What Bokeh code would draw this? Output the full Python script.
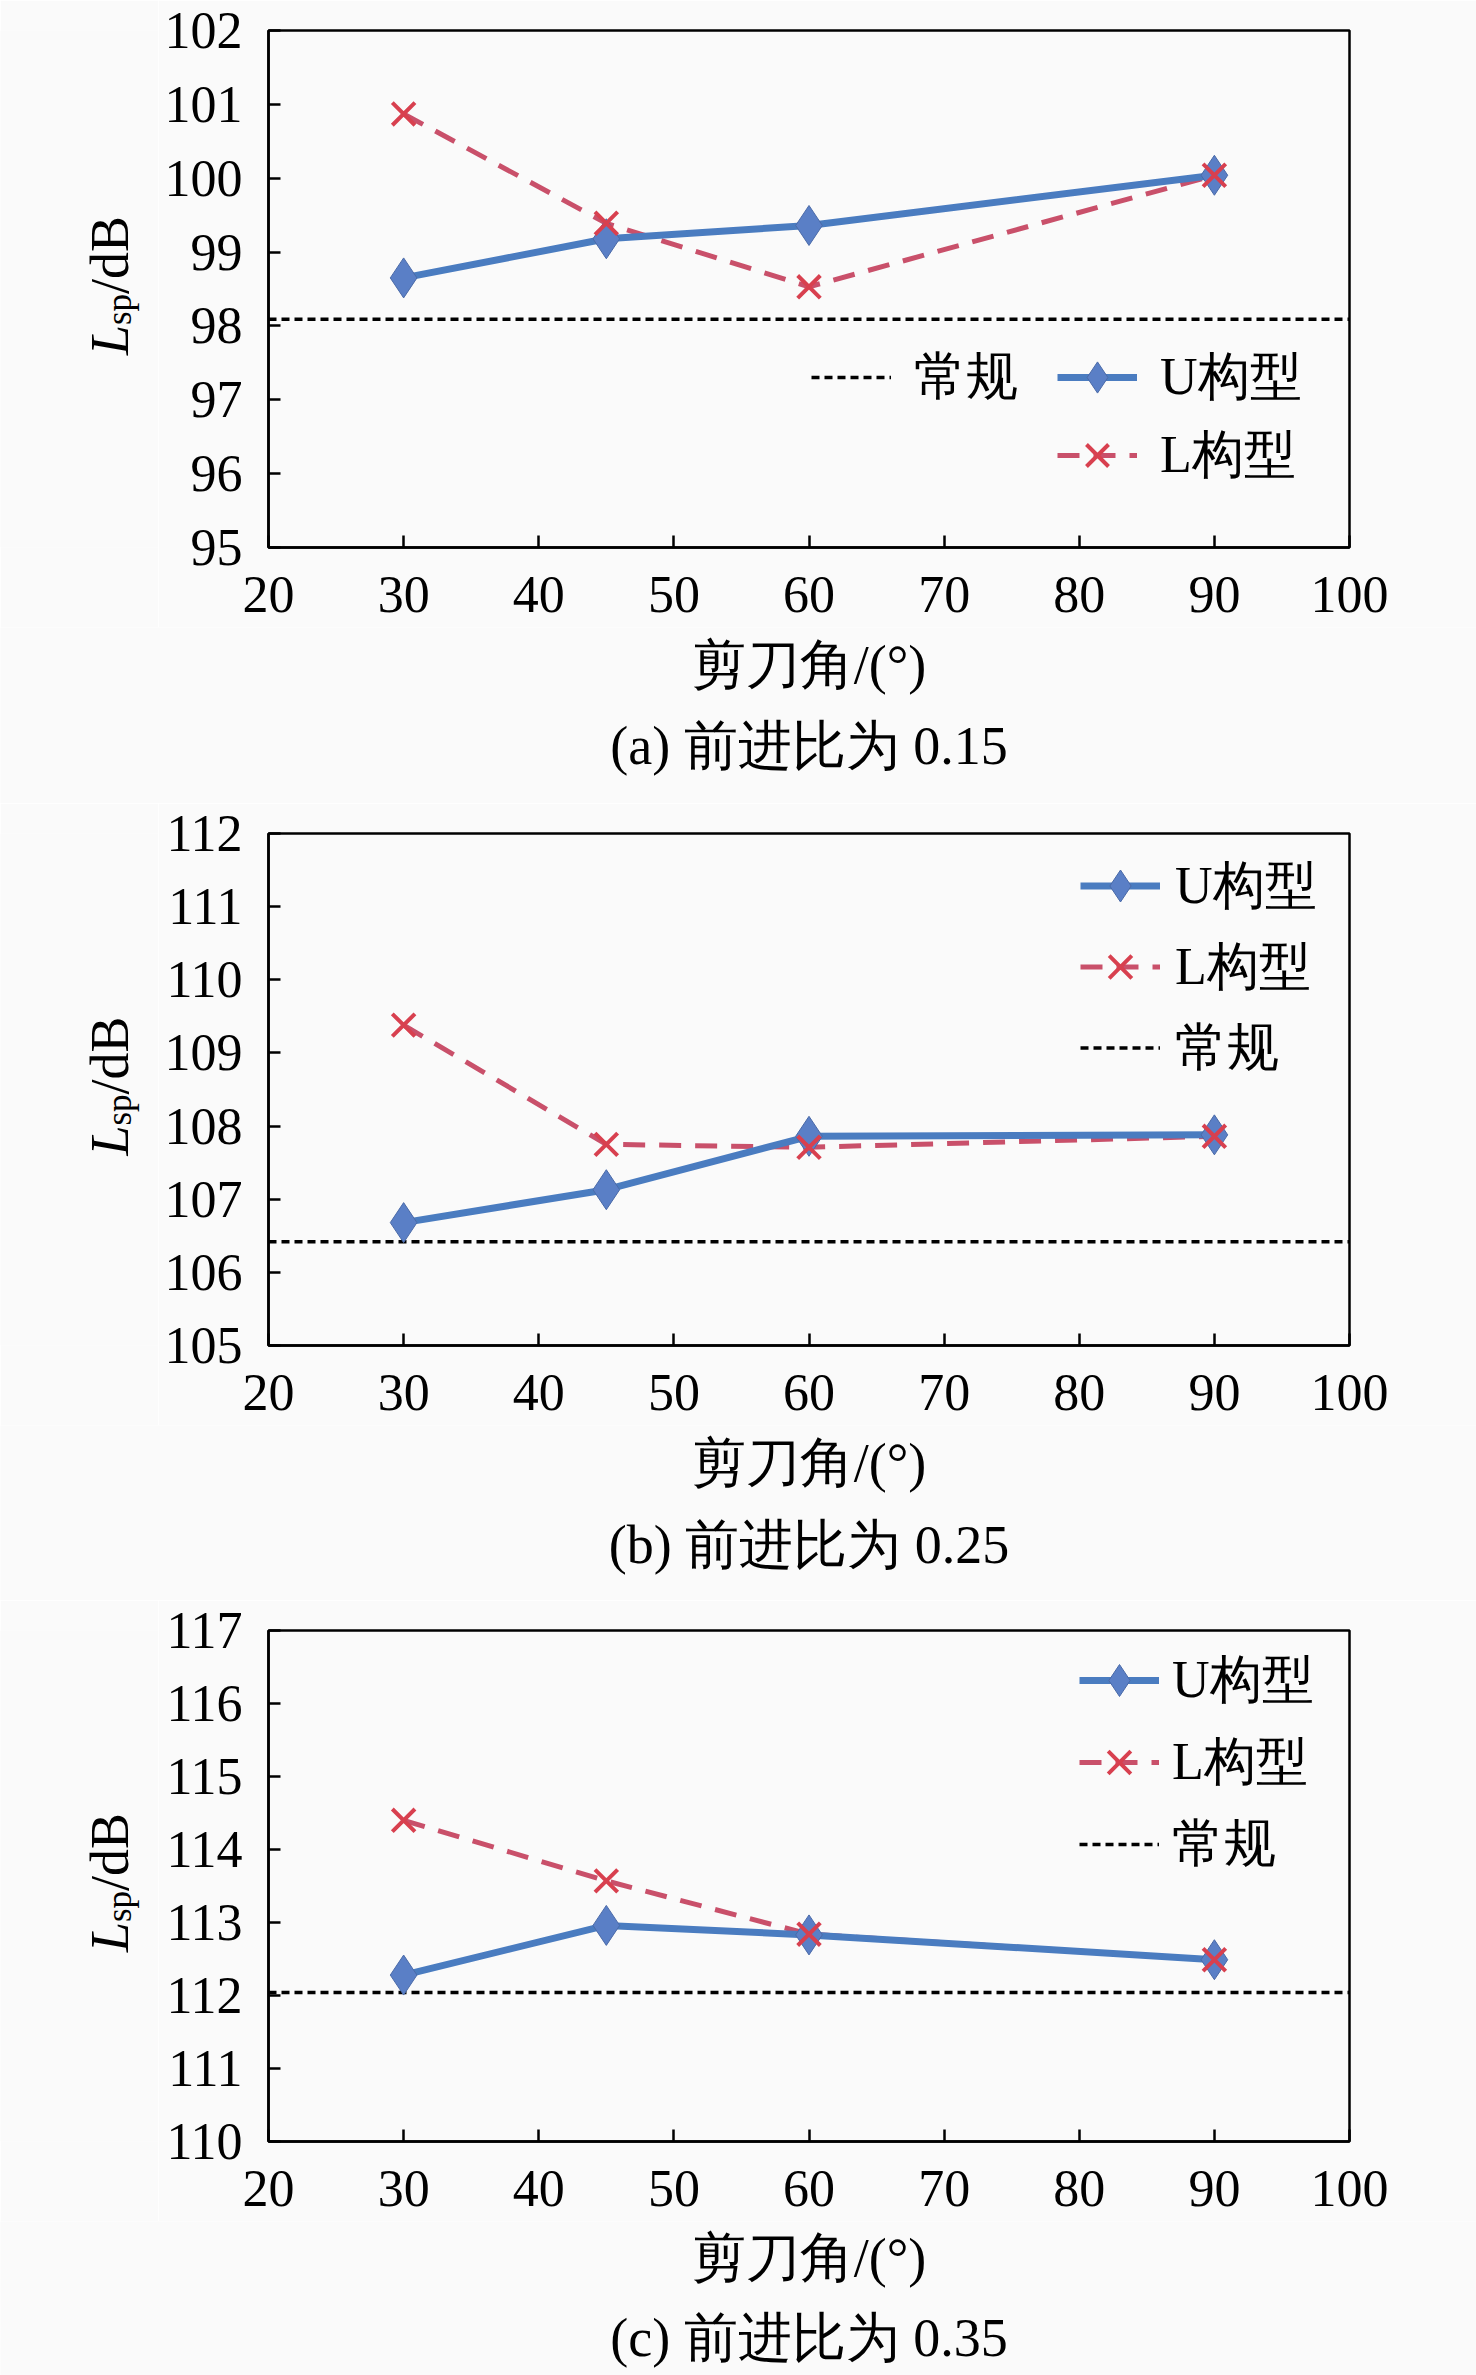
import math
from bokeh.plotting import figure
from bokeh.models import Range1d, FixedTicker, Label, Legend, LegendItem
from bokeh.layouts import column, row
from bokeh.embed import file_html
from bokeh.resources import INLINE

# ---------------- data ----------------
angles = [30, 45, 60, 90]
x_ticks = [20, 30, 40, 50, 60, 70, 80, 90, 100]
x_lo, x_hi = 20, 100

u_a = [98.65, 99.18, 99.36, 100.04]
l_a = [100.87, 99.39, 98.53, 100.04]
conv_a = 98.09
y_a = (95, 102)
yticks_a = [95, 96, 97, 98, 99, 100, 101, 102]
cap_a = "(a) 前进比为 0.15"

u_b = [106.68, 107.13, 107.86, 107.88]
l_b = [109.38, 107.75, 107.71, 107.86]
conv_b = 106.42
y_b = (105, 112)
yticks_b = [105, 106, 107, 108, 109, 110, 111, 112]
cap_b = "(b) 前进比为 0.25"

u_c = [112.28, 112.96, 112.83, 112.49]
l_c = [114.40, 113.57, 112.84, 112.49]
conv_c = 112.04
y_c = (110, 117)
yticks_c = [110, 111, 112, 113, 114, 115, 116, 117]
cap_c = "(c) 前进比为 0.35"

x_title = "剪刀角/(°)"
lab_u = "U构型"
lab_l = "L构型"
lab_conv = "常规"

SERIF = "Liberation Serif"
BG = "#fafafa"
U_COL = "#4a7cc0"
U_MK = "#5a7fc6"
L_COL = "#c9506a"
L_MK = "#d8404f"

FW = 1476          # page width
YLAB_W = 158       # width of the y-label strip
MAIN_W = FW - YLAB_W
LEFT = 110         # main figure left border
FRAME_W = 1081
BOT = 80           # main figure bottom border


def blank_fig(w, h):
    f = figure(width=w, height=h, output_backend="svg", toolbar_location=None,
               x_range=Range1d(0, 1), y_range=Range1d(0, 1),
               x_axis_type=None, y_axis_type=None,
               min_border=0, min_border_left=0, min_border_right=0,
               min_border_top=0, min_border_bottom=0)
    f.outline_line_color = None
    f.background_fill_color = BG
    f.border_fill_color = BG
    f.grid.visible = False
    return f


def build(u, l, conv, yr, yticks, cap, top, fh, cap_h, t_top, c_top, legends):
    height = top + fh + BOT
    p = figure(width=MAIN_W, height=height, output_backend="svg", toolbar_location=None,
               x_range=Range1d(x_lo, x_hi), y_range=Range1d(*yr),
               min_border_left=LEFT, min_border_right=MAIN_W - LEFT - FRAME_W,
               min_border_top=top, min_border_bottom=BOT)
    p.background_fill_color = BG
    p.border_fill_color = BG
    p.outline_line_color = "black"
    p.outline_line_width = 2.5
    p.xgrid.visible = False
    p.ygrid.visible = False

    for ax in (p.xaxis[0], p.yaxis[0]):
        ax.axis_line_color = "black"
        ax.axis_line_width = 2.5
        ax.major_tick_in = 12
        ax.major_tick_out = 0
        ax.major_tick_line_width = 2.5
        ax.minor_tick_line_color = None
        ax.major_label_text_font = SERIF
        ax.major_label_text_font_size = "52px"
        ax.major_label_text_color = "black"
    p.xaxis.ticker = FixedTicker(ticks=x_ticks)
    p.yaxis.ticker = FixedTicker(ticks=yticks)
    p.xaxis.major_label_standoff = 29
    p.yaxis.major_label_standoff = 26

    conv_r = p.line([x_lo, x_hi], [conv, conv], line_color="black", line_width=3.5, line_dash="8 5")
    l_line = p.line(angles, l, line_color=L_COL, line_width=5, line_dash="22 14")
    u_line = p.line(angles, u, line_color=U_COL, line_width=7)
    u_mk = p.scatter(angles, u, marker="diamond", size=40, fill_color=U_MK, line_color="#4a6aa8", line_width=1)
    l_mk = p.scatter(angles, l, marker="x", size=32, line_color=L_MK, line_width=4)

    rmap = {lab_u: [u_line, u_mk], lab_l: [l_line, l_mk], lab_conv: [conv_r]}
    for names, loc, ih, standoff in legends:
        items = [LegendItem(label=n, renderers=rmap[n]) for n in names]
        lg = Legend(items=items, location=loc, orientation="vertical",
                    glyph_width=80, glyph_height=ih, label_height=ih,
                    label_standoff=standoff, padding=0, margin=0, spacing=0,
                    border_line_alpha=0, background_fill_alpha=0,
                    label_text_font=SERIF, label_text_font_size="52px",
                    label_text_color="black")
        p.add_layout(lg)

    # y-label strip (its frame is the whole canvas)
    yl = blank_fig(YLAB_W, height)
    cy = BOT + fh / 2
    base_x = 109
    y0 = cy - 146
    yl.add_layout(Label(x=base_x, y=y0, x_units="screen", y_units="screen", text="L",
                        angle=math.pi / 2, text_font=SERIF, text_font_style="italic",
                        text_font_size="54px", text_align="left", text_baseline="alphabetic",
                        text_color="black"))
    yl.add_layout(Label(x=base_x + 10, y=y0 + 30, x_units="screen", y_units="screen", text="sp",
                        angle=math.pi / 2, text_font=SERIF,
                        text_font_size="35px", text_align="left", text_baseline="alphabetic",
                        text_color="black"))
    yl.add_layout(Label(x=base_x, y=y0 + 61, x_units="screen", y_units="screen", text="/dB",
                        angle=math.pi / 2, text_font=SERIF,
                        text_font_size="54px", text_align="left", text_baseline="alphabetic",
                        text_color="black"))

    # x title + caption strip
    cf = blank_fig(FW, cap_h)
    cx = YLAB_W + LEFT + FRAME_W / 2
    cf.add_layout(Label(x=cx, y=cap_h - t_top, x_units="screen", y_units="screen",
                        text=x_title, text_font=SERIF, text_font_size="54px",
                        text_align="center", text_baseline="middle", text_color="black"))
    cf.add_layout(Label(x=cx, y=cap_h - c_top, x_units="screen", y_units="screen",
                        text=cap, text_font=SERIF, text_font_size="54px",
                        text_align="center", text_baseline="middle", text_color="black"))
    return column(row(yl, p, spacing=0), cf, spacing=0)


pa = build(u_a, l_a, conv_a, y_a, yticks_a, cap_a, 30, 517, 176, 37, 118,
           [([lab_conv], (543, 131), 78, 23), ([lab_u, lab_l], (789, 53), 78, 23)])
pb = build(u_b, l_b, conv_b, y_b, yticks_b, cap_b, 30, 512, 175, 37, 119,
           [([lab_u, lab_l, lab_conv], (812, 257), 81, 15)])
pc = build(u_c, l_c, conv_c, y_c, yticks_c, cap_c, 30, 511, 154, 36, 116,
           [([lab_u, lab_l, lab_conv], (811, 256), 82, 13)])

layout = column(pa, pb, pc, spacing=0)
open("out.html", "w").write(file_html(layout, INLINE))
